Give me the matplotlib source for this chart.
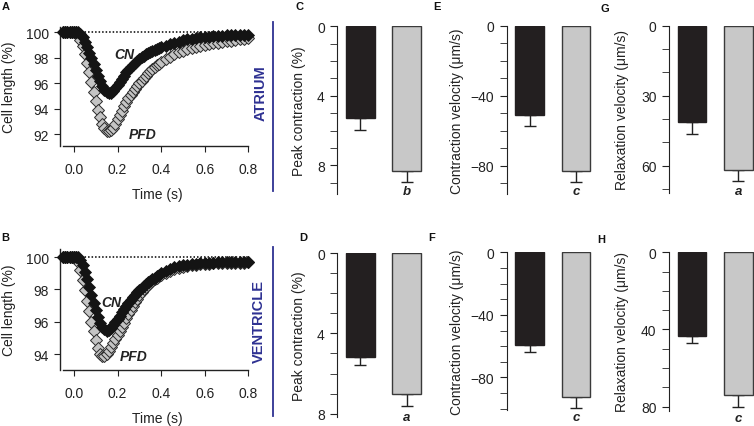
import matplotlib
matplotlib.use("Agg")
import matplotlib.pyplot as plt
from matplotlib.ticker import MultipleLocator
from matplotlib.lines import Line2D

plt.rcParams['font.family'] = ['Liberation Sans', 'DejaVu Sans']

# ---------------- data ----------------
time_s = [-0.05, -0.04, -0.03, -0.02, -0.01, 0.00, 0.01, 0.02, 0.03, 0.04,
          0.05, 0.06, 0.07, 0.08, 0.09, 0.10, 0.11, 0.12, 0.13, 0.14,
          0.15, 0.16, 0.17, 0.18, 0.19, 0.20, 0.21, 0.22, 0.23, 0.24,
          0.25, 0.26, 0.27, 0.28, 0.29, 0.30, 0.31, 0.32, 0.33, 0.34,
          0.35, 0.36, 0.37, 0.38, 0.39, 0.40, 0.42, 0.44, 0.46, 0.48,
          0.50, 0.52, 0.54, 0.56, 0.58, 0.60, 0.62, 0.64, 0.66, 0.68,
          0.70, 0.72, 0.74, 0.76, 0.78, 0.80]

atrium_cn = [100, 100, 100, 100, 100, 100, 100, 100, 99.85, 99.6,
             99.25, 98.85, 98.4, 97.95, 97.5, 97.05, 96.6, 96.2, 95.8, 95.5,
             95.3, 95.2, 95.25, 95.4, 95.6, 95.85, 96.1, 96.35, 96.6, 96.85,
             97.05, 97.25, 97.45, 97.62, 97.78, 97.93, 98.06, 98.18, 98.29, 98.39,
             98.48, 98.56, 98.64, 98.71, 98.77, 98.83, 98.95, 99.07, 99.18, 99.28,
             99.37, 99.44, 99.5, 99.55, 99.6, 99.64, 99.67, 99.7, 99.72, 99.74,
             99.76, 99.78, 99.8, 99.81, 99.82, 99.83]

atrium_pfd = [100, 100, 100, 100, 100, 100, 100, 99.8, 99.4, 98.9,
              98.3, 97.6, 96.9, 96.1, 95.3, 94.6, 93.9, 93.3, 92.8, 92.45,
              92.25, 92.2, 92.3, 92.5, 92.8, 93.15, 93.5, 93.85, 94.2, 94.5,
              94.8, 95.05, 95.3, 95.55, 95.8, 96.0, 96.2, 96.4, 96.6, 96.8,
              96.97, 97.13, 97.28, 97.42, 97.55, 97.68, 97.9, 98.1, 98.28, 98.42,
              98.55, 98.66, 98.76, 98.85, 98.93, 99.0, 99.07, 99.13, 99.19, 99.25,
              99.3, 99.35, 99.4, 99.44, 99.48, 99.52]

ventricle_cn = [100, 100, 100, 100, 100, 100, 100, 100, 99.8, 99.5,
                99.1, 98.65, 98.15, 97.65, 97.15, 96.7, 96.3, 95.95, 95.7, 95.52,
                95.45, 95.48, 95.6, 95.78, 95.98, 96.18, 96.38, 96.58, 96.78, 96.98,
                97.17, 97.35, 97.52, 97.67, 97.81, 97.95, 98.08, 98.2, 98.32, 98.43,
                98.53, 98.63, 98.73, 98.83, 98.92, 99.0, 99.14, 99.26, 99.36, 99.44,
                99.5, 99.54, 99.57, 99.6, 99.62, 99.64, 99.65, 99.66, 99.67, 99.68,
                99.69, 99.7, 99.7, 99.71, 99.71, 99.72]

ventricle_pfd = [100, 100, 100, 100, 100, 100, 100, 99.7, 99.2, 98.6,
                 97.95, 97.3, 96.65, 96.0, 95.4, 94.85, 94.35, 94.0, 93.85, 93.9,
                 94.02, 94.2, 94.45, 94.7, 94.95, 95.2, 95.45, 95.7, 95.95, 96.2,
                 96.45, 96.7, 96.95, 97.2, 97.43, 97.65, 97.85, 98.02, 98.17, 98.3,
                 98.42, 98.52, 98.62, 98.71, 98.8, 98.88, 99.02, 99.14, 99.24, 99.33,
                 99.4, 99.45, 99.5, 99.53, 99.56, 99.58, 99.6, 99.61, 99.62, 99.63,
                 99.64, 99.65, 99.65, 99.66, 99.66, 99.67]

BASELINE = 100

groups = ['CN', 'PFD']
# bar panels: mean, sem
peak_atrium = [5.29, 8.30];        peak_atrium_err = [0.67, 0.63];   sig_C = 'b'
peak_ventricle = [5.19, 7.01];     peak_ventricle_err = [0.38, 0.59]; sig_D = 'a'
cvel_atrium = [-50.9, -83.0];      cvel_atrium_err = [6.3, 6.3];     sig_E = 'c'
cvel_ventricle = [-59.0, -92.3];   cvel_ventricle_err = [4.5, 7.2];  sig_F = 'c'
rvel_atrium = [41.1, 61.9];        rvel_atrium_err = [5.3, 4.5];     sig_G = 'a'
rvel_ventricle = [43.4, 73.8];     rvel_ventricle_err = [3.8, 6.2];  sig_H = 'c'

# ---------------- figure ----------------
W, H = 754, 427
fig = plt.figure(figsize=(W / 100, H / 100), dpi=100)
TXT = '#222222'
NAVY = '#2e3192'


def px_axes(x0, y0, x1, y1):
    return fig.add_axes([x0 / W, 1 - y1 / H, (x1 - x0) / W, (y1 - y0) / H])


def trace_panel(ax, cn, pfd, ylim, yticks, cn_xy, pfd_xy):
    ax.set_xlim(-0.064, 0.826)
    ax.set_ylim(*ylim)
    ax.hlines(BASELINE, 0, 0.8, colors='k', linestyles=(0, (1, 1.3)), lw=1.1, zorder=1)
    ax.plot(time_s, pfd, linestyle='none', marker='D', ms=6.2, mfc='#c4c4c4',
            mec='#2a2a2a', mew=0.7, zorder=2, clip_on=False)
    ax.plot(time_s, cn, linestyle='none', marker='D', ms=6.2, mfc='#141414',
            mec='#141414', mew=0.6, zorder=3, clip_on=False)
    for s in ['top', 'right']:
        ax.spines[s].set_visible(False)
    ax.spines['bottom'].set_bounds(-0.052, 0.8)
    ax.set_xticks([0.0, 0.2, 0.4, 0.6, 0.8])
    ax.set_xticklabels(['0.0', '0.2', '0.4', '0.6', '0.8'])
    ax.set_yticks(yticks)
    ax.tick_params(axis='x', length=4, pad=8, labelsize=10, colors=TXT)
    ax.tick_params(axis='y', length=4, pad=4, labelsize=10, colors=TXT)
    for s in ['left', 'bottom']:
        ax.spines[s].set_color('#222222')
        ax.spines[s].set_linewidth(1.0)
    ax.set_xlabel('Time (s)', fontsize=10, color=TXT, labelpad=8)
    ax.set_ylabel('Cell length (%)', fontsize=10, color=TXT)
    ax.text(*cn_xy, 'CN', fontsize=10, fontweight='bold', fontstyle='italic',
            ha='center', va='center', color='#222222', zorder=5)
    ax.text(*pfd_xy, 'PFD', fontsize=10, fontweight='bold', fontstyle='italic',
            ha='center', va='center', color='#222222', zorder=5)


axA = px_axes(60, 28.3, 254, 146.7)
trace_panel(axA, atrium_cn, atrium_pfd, (91.08, 100.4), [92, 94, 96, 98, 100],
            (0.229, 98.3), (0.317, 92.02))
axA.yaxis.set_label_coords(-44 / 194, 0.5)

axB = px_axes(60, 250, 254, 370.7)
trace_panel(axB, ventricle_cn, ventricle_pfd, (93.03, 100.5), [94, 96, 98, 100],
            (0.173, 97.23), (0.275, 93.88))
axB.yaxis.set_label_coords(-44 / 194, 0.5)

# chamber labels with vertical lines
fig.add_artist(Line2D([273 / W, 273 / W], [1 - 23 / H, 1 - 192 / H], color=NAVY, lw=1.3))
fig.add_artist(Line2D([273 / W, 273 / W], [1 - 248 / H, 1 - 417 / H], color=NAVY, lw=1.3))
fig.text(261 / W, 1 - 93 / H, 'ATRIUM', rotation=90, fontsize=10.5, fontweight='bold',
         color=NAVY, ha='center', va='center')
fig.text(259 / W, 1 - 322 / H, 'VENTRICLE', rotation=90, fontsize=10.5, fontweight='bold',
         color=NAVY, ha='center', va='center')


def bar_panel(x0, y0, y1, vals, errs, ylim, major, minor, ylabel, label_right, sig, sig_y):
    xlim = (-0.5, 1.36)
    width_px = (xlim[1] - xlim[0]) * 46.2
    ax = px_axes(x0, y0, x0 + width_px, y1)
    ax.set_xlim(*xlim)
    ax.set_ylim(*ylim)
    xs = [0, 1]
    ax.bar(xs, vals, width=0.62, color=['#231f20', '#c8c8c8'],
           edgecolor=['#231f20', '#3a3a3a'], linewidth=1.0, zorder=3)
    for x, v, e in zip(xs, vals, errs):
        if v < 0:
            yerr = [[e], [0]]
        else:
            yerr = [[0], [e]]
        ax.errorbar([x], [v], yerr=yerr, fmt='none', ecolor='#222222',
                    elinewidth=1.0, capsize=4.5, capthick=1.0, zorder=2)
    for s in ['top', 'right', 'bottom']:
        ax.spines[s].set_visible(False)
    ax.spines['left'].set_color('#222222')
    ax.set_xticks([])
    ax.yaxis.set_major_locator(MultipleLocator(major))
    ax.yaxis.set_minor_locator(MultipleLocator(minor))
    ax.tick_params(axis='y', which='both', length=5, pad=4, labelsize=10, colors=TXT)
    ax.set_ylabel(ylabel, fontsize=10, color=TXT)
    ax.yaxis.set_label_coords((label_right - x0) / width_px, 0.5)
    ax.text(1, sig_y, sig, fontsize=9.5, fontweight='bold', fontstyle='italic',
            ha='center', va='center', color='#222222', clip_on=False)
    return ax


bar_panel(337.3, 27.3, 195, peak_atrium, peak_atrium_err, (9.64, 0), 4, 1,
          'Peak contraction (%)', 306, sig_C, 9.47)
bar_panel(337.3, 254, 418, peak_ventricle, peak_ventricle_err, (8.16, 0), 4, 1,
          'Peak contraction (%)', 306, sig_D, 8.17)
bar_panel(506.7, 26.7, 195, cvel_atrium, cvel_atrium_err, (-96.3, 0), 40, 10,
          'Contraction velocity (μm/s)', 464, sig_E, -94.6)
bar_panel(506.7, 253.3, 410.7, cvel_ventricle, cvel_ventricle_err, (-100.6, 0), 40, 10,
          'Contraction velocity (μm/s)', 464, sig_F, -105.4)
bar_panel(669, 26.7, 194, rvel_atrium, rvel_atrium_err, (71.7, 0), 30, 10,
          'Relaxation velocity (μm/s)', 629, sig_G, 70.7)
bar_panel(669, 253.3, 411.7, rvel_ventricle, rvel_ventricle_err, (82.1, 0), 40, 10,
          'Relaxation velocity (μm/s)', 629, sig_H, 85.9)

# panel letters
for letter, x, y in [('A', 5.5, 7), ('B', 5, 238.5), ('C', 299.5, 7.5), ('D', 303.5, 238.5),
                     ('E', 436.5, 7.5), ('F', 432, 238.5), ('G', 605, 8.5), ('H', 601, 240)]:
    fig.text(x / W, 1 - y / H, letter, fontsize=8, fontweight='bold', color='#111111',
             ha='center', va='center')

fig.savefig('out.png', dpi=100)
